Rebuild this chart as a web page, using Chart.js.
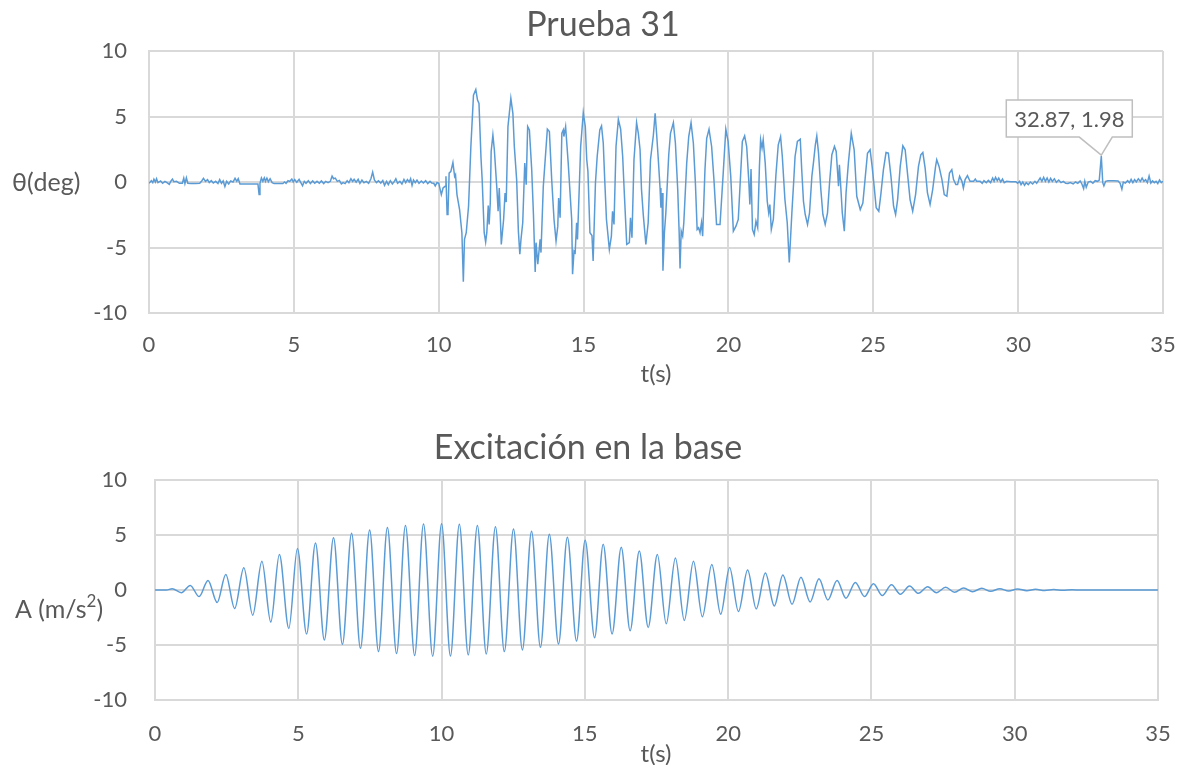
<!DOCTYPE html>
<html>
<head>
<meta charset="utf-8">
<title>Prueba 31</title>
<script src="https://cdn.jsdelivr.net/npm/chart.js@4.4.0/dist/chart.umd.min.js"></script>
<style>
  body { margin: 0; background: #fff; }
  .box { position: absolute; left: 0; width: 1185px; }
  #top { top: 0; height: 395px; }
  #bottom { top: 395px; height: 370px; }
</style>
</head>
<body>
<div class="box" id="top"><canvas id="chartTheta" width="1185" height="395"></canvas></div>
<div class="box" id="bottom"><canvas id="chartBase" width="1185" height="370"></canvas></div>
<script>
// time axis and value axis ticks (same for both plots)
const tTicks = [0, 5, 10, 15, 20, 25, 30, 35];
const vTicks = [-10, -5, 0, 5, 10];

// Prueba 31: rotation [t (s), theta (deg)]
// before the shaking starts
const thetaQuiet = [
  [0.00, -0.10], [0.08, 0.10], [0.13, -0.05], [0.17, 0.22], [0.22, 0.00], [0.26, 0.25], [0.31, -0.05],
  [0.40, 0.08], [0.47, -0.10], [0.55, 0.05], [0.62, -0.05], [0.70, -0.18], [0.76, 0.08], [0.81, 0.22],
  [0.86, 0.02], [0.95, 0.05], [1.05, -0.10], [1.15, -0.10], [1.20, 0.30], [1.24, -0.12], [1.29, 0.32],
  [1.34, -0.10], [1.45, -0.12], [1.60, -0.12], [1.75, -0.10], [1.82, 0.08], [1.88, 0.28], [1.95, 0.05],
  [2.02, 0.18], [2.08, -0.05], [2.15, 0.10], [2.22, -0.08], [2.30, 0.05], [2.38, -0.12], [2.44, 0.18],
  [2.50, -0.10], [2.56, 0.08], [2.62, -0.35], [2.68, 0.05], [2.75, -0.15], [2.82, 0.08], [2.90, 0.00],
  [2.97, 0.28], [3.03, 0.05], [3.08, 0.25], [3.14, -0.15], [3.45, -0.15], [3.76, -0.15], [3.80, -0.95],
  [3.83, -0.10], [3.88, 0.30], [3.93, 0.05], [3.98, 0.32], [4.02, 0.05], [4.07, 0.30], [4.12, 0.02],
  [4.18, 0.25], [4.25, -0.05], [4.32, -0.12], [4.62, -0.12], [4.68, 0.00], [4.73, -0.10], [4.80, 0.10],
  [4.86, 0.05], [4.93, 0.22], [4.98, 0.00], [5.03, 0.18], [5.10, -0.02], [5.18, 0.20], [5.24, -0.05],
  [5.30, -0.28], [5.36, 0.05], [5.42, -0.10], [5.50, 0.10], [5.57, -0.12], [5.65, 0.08], [5.72, -0.10],
  [5.80, 0.05], [5.88, -0.10], [5.95, 0.08], [6.03, -0.12], [6.10, 0.05], [6.18, -0.05], [6.26, 0.05],
  [6.32, 0.45], [6.37, 0.25], [6.43, 0.30], [6.50, 0.05], [6.57, 0.12], [6.64, -0.15], [6.70, -0.05],
  [6.77, -0.12], [6.84, 0.10], [6.90, -0.05], [6.97, 0.25], [7.03, 0.05], [7.08, 0.20], [7.15, -0.02],
  [7.22, 0.20], [7.28, -0.10], [7.35, 0.15], [7.42, -0.05], [7.50, 0.05], [7.58, -0.10], [7.66, 0.25],
  [7.72, 0.75], [7.78, 0.15], [7.85, -0.05], [7.92, 0.10], [8.00, -0.08], [8.07, 0.12], [8.13, -0.25],
  [8.20, 0.05], [8.26, -0.20], [8.33, 0.10], [8.40, -0.15], [8.47, 0.05], [8.52, 0.25], [8.58, -0.10],
  [8.66, 0.05], [8.73, -0.15], [8.80, 0.20], [8.86, -0.05], [8.92, 0.18], [8.98, 0.00], [9.03, 0.25],
  [9.08, -0.25], [9.13, 0.15], [9.19, -0.05], [9.25, 0.15], [9.32, -0.10], [9.40, 0.08], [9.47, -0.08],
  [9.55, 0.10], [9.62, -0.12], [9.70, 0.05], [9.76, -0.08], [9.83, -0.10], [9.88, -0.30], [9.94, -0.05],
  [10.00, -0.08]
];

// while the base is shaking
const thetaShake = [
  [10.09, -0.96], [10.15, -0.46], [10.22, -0.33], [10.25, 0.43], [10.29, -2.48], [10.32, -2.35], [10.36, 0.68],
  [10.42, 0.81], [10.49, 1.49], [10.55, 0.43], [10.58, 0.56], [10.63, -0.96], [10.72, -2.10], [10.80, -3.87],
  [10.85, -7.62], [10.89, -4.38], [10.95, -3.87], [11.03, -1.85], [11.11, 2.71], [11.20, 6.63], [11.28, 7.06],
  [11.34, 6.25], [11.39, 6.00], [11.46, 1.82], [11.50, 0.18], [11.57, -3.87], [11.62, -4.58], [11.66, -3.87],
  [11.71, -1.80], [11.74, -3.24], [11.78, -1.60], [11.81, 2.33], [11.87, 3.59], [11.92, 2.46], [12.01, -0.58],
  [12.05, -2.23], [12.09, -0.46], [12.16, -4.76], [12.24, -2.86], [12.29, -0.84], [12.33, -1.54], [12.39, 4.23],
  [12.49, 6.38], [12.56, 5.24], [12.61, 2.71], [12.69, 0.18], [12.75, -3.75], [12.80, -5.52], [12.84, -4.38],
  [12.90, -3.11], [12.97, 1.44], [13.02, -0.20], [13.07, 4.23], [13.13, 3.97], [13.21, 0.94], [13.27, -2.48],
  [13.33, -6.86], [13.36, -4.63], [13.42, -6.28], [13.50, -4.38], [13.53, -5.39], [13.61, -0.33], [13.75, 4.03],
  [13.82, 3.85], [13.90, 0.18], [13.98, -2.86], [14.05, -4.51], [14.11, -3.37], [14.14, -1.22], [14.19, -2.73],
  [14.25, 3.72], [14.30, 3.97], [14.32, 3.47], [14.38, 4.23], [14.47, 1.44], [14.59, -2.86], [14.62, -7.04],
  [14.67, -5.27], [14.71, -5.39], [14.76, -3.11], [14.79, -4.38], [14.90, 2.71], [14.99, 5.29], [15.06, 4.23],
  [15.11, 1.70], [15.15, 0.81], [15.22, -3.87], [15.29, -4.08], [15.33, -6.03], [15.41, -0.08], [15.47, 1.95],
  [15.56, 3.97], [15.62, 4.28], [15.68, 2.96], [15.73, 0.18], [15.79, -2.86], [15.89, -5.14], [15.96, -4.13],
  [16.00, -2.23], [16.05, -3.24], [16.12, 2.71], [16.20, 4.78], [16.28, 4.03], [16.35, 1.95], [16.39, -0.08],
  [16.49, -4.76], [16.58, -4.63], [16.62, -2.73], [16.67, -4.25], [16.74, 1.70], [16.83, 4.53], [16.89, 3.72],
  [16.95, 2.46], [17.00, -0.58], [17.06, -2.48], [17.15, -4.76], [17.23, -3.11], [17.31, 1.70], [17.41, 3.59],
  [17.47, 5.24], [17.52, 3.72], [17.58, 1.70], [17.64, -0.46], [17.67, -1.97], [17.71, -0.84], [17.74, -6.78],
  [17.79, -3.87], [17.84, -2.35], [17.94, 2.08], [18.00, 3.72], [18.10, 4.53], [18.17, 2.96], [18.25, -0.58],
  [18.30, -3.87], [18.33, -6.61], [18.37, -3.75], [18.42, -4.13], [18.46, -3.11], [18.56, 1.44], [18.63, 3.47],
  [18.71, 4.53], [18.79, 2.96], [18.86, -0.08], [18.92, -3.62], [18.97, -3.49], [19.02, -3.87], [19.07, -3.11],
  [19.11, -4.13], [19.19, 0.94], [19.25, 3.34], [19.33, 4.03], [19.42, 2.71], [19.50, 0.18], [19.59, -3.24],
  [19.71, -3.24], [19.82, 0.68], [19.91, 4.03], [19.99, 3.09], [20.08, 0.43], [20.17, -3.75], [20.26, -3.37],
  [20.34, -2.86], [20.40, -0.33], [20.48, 3.09], [20.56, 3.52], [20.63, 2.71], [20.70, 0.18], [20.74, -1.72],
  [20.78, 0.99], [20.83, -3.62], [20.89, -4.00], [20.95, -2.99], [21.01, -3.49], [21.07, 1.19], [21.11, 3.22],
  [21.16, 2.58], [21.20, 3.22], [21.27, 1.44], [21.34, -1.47], [21.39, -2.35], [21.43, -1.72], [21.48, -3.62],
  [21.55, -2.86], [21.64, 0.56], [21.72, 2.84], [21.80, 3.47], [21.86, 1.95], [21.95, -1.34], [22.03, -3.11],
  [22.10, -6.15], [22.19, -2.35], [22.25, -0.08], [22.30, 1.95], [22.38, 3.09], [22.48, 3.27], [22.53, 0.94],
  [22.59, -1.47], [22.65, -2.48], [22.73, -3.24], [22.80, -2.35], [22.88, 0.43], [22.94, 1.57], [23.00, 2.84],
  [23.05, 3.52], [23.11, 2.20], [23.19, -0.58], [23.26, -2.48], [23.34, -3.24], [23.42, -2.35], [23.49, -0.08],
  [23.57, 2.08], [23.66, 2.71], [23.72, 2.33], [23.80, -0.33], [23.83, 1.32], [23.88, -0.46], [23.93, -2.35],
  [24.00, -3.75], [24.06, -0.84], [24.14, 1.44], [24.24, 3.72], [24.34, 2.46], [24.43, -1.09], [24.55, -2.10],
  [24.64, -1.60], [24.72, 0.30], [24.80, 2.20], [24.89, 2.46], [24.96, 1.19], [25.03, -0.33], [25.10, -1.97],
  [25.19, -2.23], [25.26, -0.96], [25.35, 0.94], [25.44, 2.25], [25.52, 2.20], [25.61, 0.43], [25.70, -1.85],
  [25.77, -2.48], [25.84, -1.34], [25.93, 1.19], [26.02, 2.76], [26.10, 2.46], [26.18, 0.68], [26.27, -1.34],
  [26.36, -2.23], [26.46, -0.96], [26.56, 1.19], [26.64, 2.08], [26.71, 2.25], [26.79, 1.06], [26.87, -0.84],
  [26.96, -1.72], [27.05, -0.58], [27.15, 1.19], [27.19, 1.70], [27.27, 1.19], [27.37, 0.18], [27.45, -0.96],
  [27.54, -1.09], [27.63, 0.68], [27.71, 0.94], [27.77, 0.18], [27.85, -0.20], [27.91, -0.20], [27.98, 0.43],
  [28.06, 0.05], [28.11, -0.46], [28.17, 0.18], [28.25, 0.48], [28.34, 0.05], [28.46, 0.05], [28.52, 0.23],
  [28.57, 0.05]
];

// labelled peak after the shaking
const thetaPeak = [32.87, 1.98];

const thetaTail = [
  [28.69, 0.05], [28.76, -0.10], [28.82, 0.10], [28.90, -0.05], [28.97, 0.12], [29.05, -0.05], [29.12, 0.30],
  [29.17, 0.05], [29.22, 0.35], [29.28, 0.10], [29.33, 0.30], [29.40, 0.00], [29.46, 0.22], [29.52, -0.05],
  [29.60, 0.05], [29.75, 0.02], [29.92, 0.02], [29.98, -0.10], [30.05, 0.05], [30.10, -0.20], [30.16, 0.00],
  [30.22, -0.25], [30.28, -0.05], [30.35, -0.20], [30.42, 0.00], [30.50, -0.15], [30.58, 0.05], [30.64, -0.10],
  [30.70, 0.10], [30.76, 0.30], [30.82, 0.05], [30.88, 0.35], [30.94, 0.05], [31.00, 0.30], [31.06, 0.00],
  [31.12, 0.28], [31.18, 0.05], [31.25, 0.25], [31.32, -0.02], [31.40, 0.15], [31.48, -0.05], [31.56, 0.05],
  [31.64, -0.10], [31.72, -0.12], [31.80, -0.05], [31.90, -0.15], [31.98, 0.00], [32.06, -0.10], [32.14, 0.08],
  [32.20, -0.15], [32.26, -0.50], [32.30, 0.05], [32.35, -0.40], [32.42, 0.00], [32.50, 0.05], [32.58, -0.10],
  [32.66, 0.10], [32.74, 0.05], [32.80, 0.15], thetaPeak, [32.92, -0.05], [32.96, -0.30], [33.02, 0.05],
  [33.10, 0.10], [33.30, 0.10], [33.45, 0.08], [33.52, -0.10], [33.58, -0.55], [33.63, 0.00], [33.70, -0.08],
  [33.78, 0.10], [33.84, -0.05], [33.90, 0.20], [33.96, -0.05], [34.02, 0.18], [34.08, 0.00], [34.15, 0.25],
  [34.22, 0.05], [34.28, 0.30], [34.34, 0.05], [34.40, 0.18], [34.46, -0.05], [34.52, 0.45], [34.58, -0.08],
  [34.64, 0.08], [34.70, -0.05], [34.76, 0.05], [34.82, -0.12], [34.88, 0.15], [34.94, -0.05], [35.00, 0.05]
];

// Excitación en la base: peaks and troughs of the acceleration [t (s), A (m/s2)]
const accPeaks = [
  [0.00, 0.00], [0.40, 0.00], [0.60, 0.12], [0.92, -0.24], [1.23, 0.42], [1.54, -0.60], [1.85, 0.87],
  [2.17, -1.14], [2.47, 1.42], [2.78, -1.69], [3.10, 2.02], [3.41, -2.29], [3.73, 2.62], [4.04, -2.92],
  [4.34, 3.22], [4.67, -3.49], [4.97, 3.77], [5.29, -4.00], [5.60, 4.28], [5.91, -4.55], [6.23, 4.76],
  [6.54, -4.94], [6.86, 5.15], [7.17, -5.30], [7.49, 5.45], [7.80, -5.60], [8.11, 5.69], [8.43, -5.78],
  [8.74, 5.87], [9.06, -5.96], [9.37, 5.99], [9.69, -6.02], [10.00, 6.02], [10.31, -6.00], [10.62, 5.97],
  [10.93, -5.90], [11.25, 5.87], [11.56, -5.81], [11.88, 5.75], [12.19, -5.60], [12.51, 5.54], [12.82, -5.45],
  [13.14, 5.33], [13.45, -5.21], [13.76, 5.06], [14.08, -4.91], [14.39, 4.79], [14.71, -4.64], [15.01, 4.52],
  [15.34, -4.34], [15.64, 4.16], [15.95, -4.00], [16.27, 3.89], [16.58, -3.70], [16.90, 3.55], [17.21, -3.40],
  [17.53, 3.22], [17.84, -3.07], [18.16, 2.92], [18.47, -2.77], [18.79, 2.62], [19.10, -2.44], [19.43, 2.32],
  [19.74, -2.20], [20.05, 2.05], [20.36, -1.96], [20.68, 1.81], [20.98, -1.72], [21.30, 1.54], [21.61, -1.45],
  [21.91, 1.36], [22.23, -1.30], [22.54, 1.17], [22.86, -1.08], [23.17, 1.02], [23.48, -0.90], [23.80, 0.87],
  [24.11, -0.75], [24.44, 0.69], [24.76, -0.60], [25.07, 0.57], [25.38, -0.51], [25.70, 0.48], [26.01, -0.39],
  [26.33, 0.36], [26.64, -0.30], [26.96, 0.30], [27.27, -0.24], [27.59, 0.24], [27.90, -0.20], [28.22, 0.18],
  [28.53, -0.15], [28.85, 0.15], [29.16, -0.12], [29.48, 0.12], [29.79, -0.09], [30.10, 0.09], [30.42, -0.06],
  [30.73, 0.06], [31.05, -0.04], [31.36, 0.04], [31.68, -0.02], [32.00, 0.02], [32.30, 0.00], [35.00, 0.00]
];

const FONT = "Lato, 'Open Sans', sans-serif";
const TEXT = "#595959";
const LINE = "#5b9bd5";
const GRID = "#d9d9d9";

const toXY = (pts) => pts.map(([x, y]) => ({ x, y }));

// titles, axis names and the value callout, drawn on top of the plot
const chartText = {
  id: "chartText",
  afterDraw(chart, args, o) {
    const ctx = chart.ctx;
    ctx.save();
    ctx.fillStyle = TEXT;
    ctx.textBaseline = "middle";

    ctx.textAlign = "center";
    ctx.font = `${o.titleSize}px ${FONT}`;
    ctx.fillText(o.title, o.titleX, o.titleY);

    ctx.font = `24px ${FONT}`;
    ctx.fillText("t(s)", o.xTitleX, o.xTitleY);

    ctx.textAlign = "left";
    let x = o.yTitleX;
    o.yTitle.forEach(([txt, sup]) => {
      ctx.font = `${sup ? 17 : 25}px ${FONT}`;
      ctx.fillText(txt, x, sup ? o.yTitleY - 8 : o.yTitleY);
      x += ctx.measureText(txt).width;
    });

    if (o.callout) {
      const [cx, cy] = o.callout;
      const px = chart.scales.x.getPixelForValue(cx);
      const py = chart.scales.y.getPixelForValue(cy);
      const L = px - 95, R = px + 31, T = py - 56, B = py - 19;
      ctx.beginPath();
      ctx.moveTo(L, T);
      ctx.lineTo(R, T);
      ctx.lineTo(R, B);
      ctx.lineTo(px + 11, B);
      ctx.lineTo(px, py - 1);
      ctx.lineTo(px - 22, B);
      ctx.lineTo(L, B);
      ctx.closePath();
      ctx.fillStyle = "#fff";
      ctx.fill();
      ctx.strokeStyle = "#bfbfbf";
      ctx.lineWidth = 1.5;
      ctx.stroke();
      ctx.fillStyle = TEXT;
      ctx.textAlign = "center";
      ctx.font = `22px ${FONT}`;
      ctx.fillText(`${cx}, ${cy}`, (L + R) / 2, (T + B) / 2 + 1);
    }
    ctx.restore();
  },
};

const makeOptions = (cfg) => ({
  responsive: false,
  animation: false,
  layout: { padding: { left: 0, right: cfg.right, top: cfg.top, bottom: 0 } },
  elements: { point: { radius: 0 } },
  plugins: {
    legend: { display: false },
    tooltip: { enabled: false },
    chartText: cfg.text,
  },
  scales: {
    x: {
      type: "linear",
      min: tTicks[0],
      max: tTicks[tTicks.length - 1],
      afterBuildTicks: (s) => { s.ticks = tTicks.map((v) => ({ value: v })); },
      ticks: { color: TEXT, font: { family: FONT, size: 22 }, padding: cfg.xPad, maxRotation: 0 },
      grid: { color: GRID, lineWidth: 2, drawTicks: false },
      border: { color: GRID, width: 2 },
      afterFit: (s) => {
        s.height = cfg.xHeight;
        s.paddingLeft = 0;
        s.paddingRight = 0;
      },
    },
    y: {
      min: vTicks[0],
      max: vTicks[vTicks.length - 1],
      afterBuildTicks: (s) => { s.ticks = vTicks.map((v) => ({ value: v })); },
      ticks: { color: TEXT, font: { family: FONT, size: 22 }, padding: cfg.yPad },
      grid: { color: GRID, lineWidth: 2, drawTicks: false },
      border: { color: GRID, width: 2 },
      afterFit: (s) => {
        s.width = cfg.yWidth;
        s.paddingTop = 0;
        s.paddingBottom = 0;
      },
    },
  },
});

new Chart(document.getElementById("chartTheta"), {
  type: "line",
  data: {
    datasets: [{
      label: "θ",
      data: toXY([...thetaQuiet, ...thetaShake, ...thetaTail]),
      borderColor: LINE,
      borderWidth: 1.5,
      tension: 0,
    }],
  },
  options: makeOptions({
    right: 22, top: 51, xHeight: 82, yWidth: 149, xPad: 19, yPad: 22,
    text: {
      title: "Prueba 31", titleSize: 34, titleX: 603, titleY: 25,
      xTitleX: 656, xTitleY: 374,
      yTitle: [["θ(deg)", false]], yTitleX: 12, yTitleY: 183,
      callout: thetaPeak,
    },
  }),
  plugins: [chartText],
});

new Chart(document.getElementById("chartBase"), {
  type: "line",
  data: {
    datasets: [{
      label: "A",
      data: toXY(accPeaks),
      borderColor: LINE,
      borderWidth: 1.5,
      cubicInterpolationMode: "monotone",
    }],
  },
  options: makeOptions({
    right: 27, top: 85, xHeight: 65, yWidth: 155, xPad: 21, yPad: 28,
    text: {
      title: "Excitación en la base", titleSize: 34, titleX: 588, titleY: 53,
      xTitleX: 656, xTitleY: 359,
      yTitle: [["A (m/s", false], ["2", true], [")", false]], yTitleX: 15, yTitleY: 215,
    },
  }),
  plugins: [chartText],
});
</script>
</body>
</html>
